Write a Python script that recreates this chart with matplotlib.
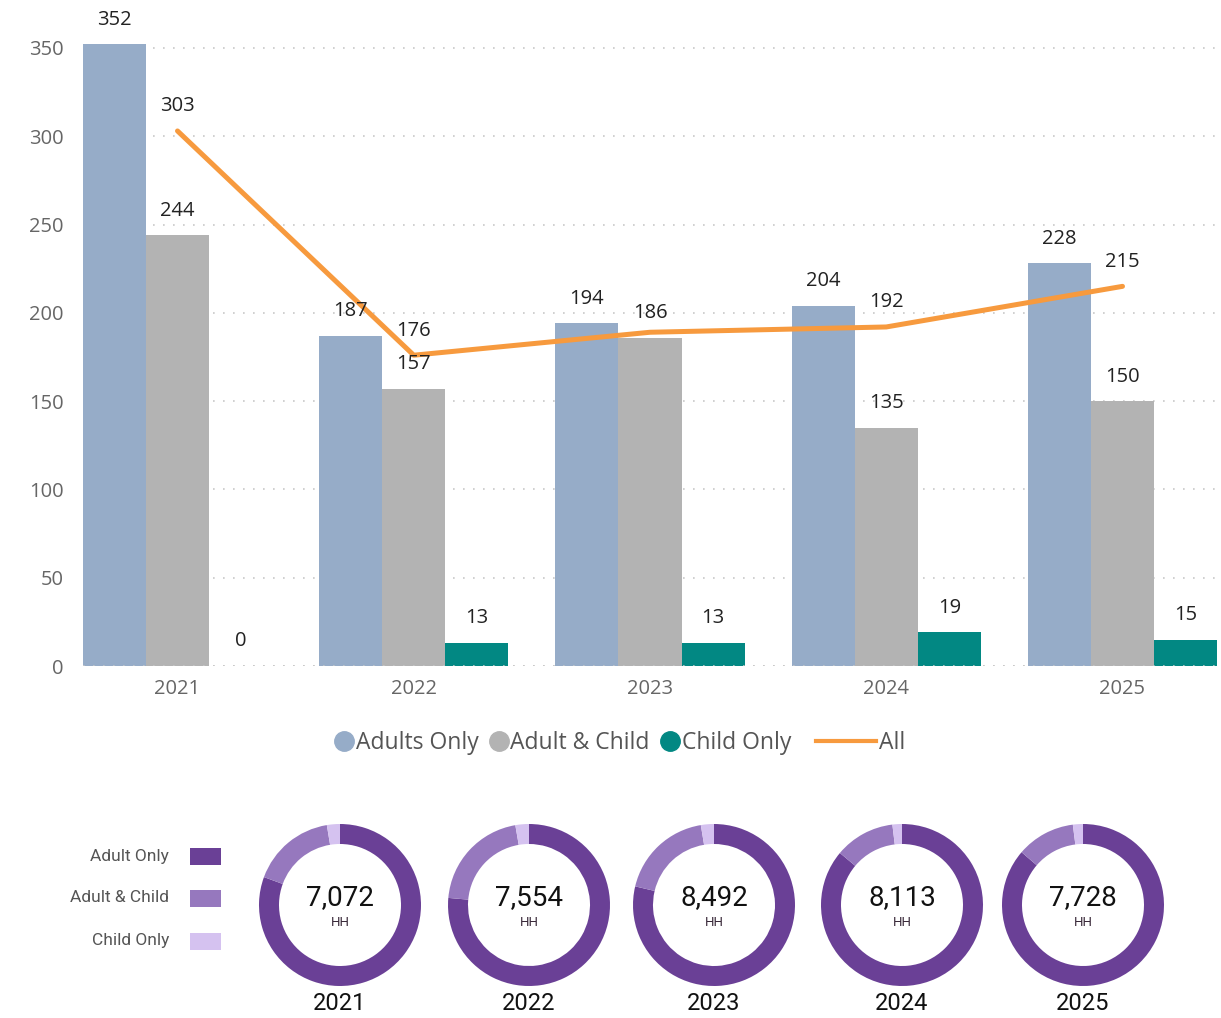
import numpy as np
import matplotlib.pyplot as plt
from matplotlib.lines import Line2D

years = ['2021', '2022', '2023', '2024', '2025']

# bar chart data
adults_only = [352, 187, 194, 204, 228]
adult_child = [244, 157, 186, 135, 150]
child_only = [0, 13, 13, 19, 15]
all_hh = [303, 176, 189, 192, 215]
all_labeled = [True, True, False, True, True]   # 2023 label hidden in the source

# donut data (household counts)
donut_totals = [7072, 7554, 8492, 8113, 7728]
donut_adult_only = [5700, 5771, 6683, 6985, 6669]
donut_adult_child = [1188, 1579, 1588, 974, 904]
donut_child_only = [184, 204, 221, 154, 155]

adults_color = '#96ACC8'
ac_color = '#B3B3B3'
child_color = '#028883'
line_color = '#F79A3E'
d_colors = ['#6A4096', '#9678BE', '#D5C2F0']

W, H = 1221, 1018
fig = plt.figure(figsize=(W / 100, H / 100), dpi=100)
plt.rcParams['font.family'] = ['Open Sans', 'DejaVu Sans']

# ===================== main bar + line chart =====================
ax = fig.add_axes([83 / W, 1 - 666 / H, (1217 - 83) / W, (666 - 30.3) / H])
x = np.arange(len(years))
bw = 63 / 236

ax.bar(x - bw, adults_only, bw, color=adults_color, zorder=2)
ax.bar(x, adult_child, bw, color=ac_color, zorder=2)
ax.bar(x + bw, child_only, bw, color=child_color, zorder=2)
ax.plot(x, all_hh, color=line_color, lw=3.6, solid_capstyle='round', zorder=3)

for i in range(len(years)):
    for off, v in [(-bw, adults_only[i]), (0, adult_child[i]), (bw, child_only[i])]:
        ax.annotate(f'{v}', (x[i] + off, v), xytext=(0, 10.5), textcoords='offset points',
                    ha='center', va='bottom', fontsize=14.5, color='#222222', zorder=5)
    if all_labeled[i]:
        ax.annotate(f'{all_hh[i]}', (x[i], all_hh[i]), xytext=(0, 10.5), textcoords='offset points',
                    ha='center', va='bottom', fontsize=14.5, color='#222222', zorder=5)

ax.set_xlim(-0.40, 4.40)
ax.set_ylim(0, 360)
ax.set_yticks(range(0, 351, 50))
ax.set_xticks(x)
ax.set_xticklabels(years)
ax.tick_params(axis='both', length=0, labelsize=14.5, labelcolor='#666666')
ax.tick_params(axis='y', pad=14)
ax.tick_params(axis='x', pad=9)
for s in ax.spines.values():
    s.set_visible(False)
ax.grid(axis='y', linestyle=(0, (1, 5)), color='#C8C8C8', lw=1.2, zorder=0)
ax.axhline(0, linestyle=(0, (1, 5)), color='#C8C8C8', lw=1.2, zorder=4)

# legend: three circle entries plus the line entry
bar_handles = [Line2D([], [], marker='o', ls='', markersize=14, color=c)
               for c in (adults_color, ac_color, child_color)]
fig.legend(bar_handles, ['Adults Only', 'Adult & Child', 'Child Only'],
           loc='center', bbox_to_anchor=(562 / W, 1 - 743 / H), ncol=3, frameon=False,
           fontsize=16.5, labelcolor='#555555', handletextpad=0.0, columnspacing=0.4,
           handlelength=1.0)
fig.legend([Line2D([], [], color=line_color, lw=3)], ['All'],
           loc='center', bbox_to_anchor=(861 / W, 1 - 743 / H), frameon=False,
           fontsize=16.5, labelcolor='#555555', handletextpad=0.15, handlelength=2.6)

# ===================== donuts =====================
dax = fig.add_axes([0, 0, 1, 228 / H])
dax.axis('off')

centers_x = [340, 529, 714, 902, 1083]
cy = H - 905
for i in range(len(years)):
    vals = [donut_adult_only[i], donut_adult_child[i], donut_child_only[i]]
    dax.pie(vals, colors=d_colors, startangle=90, counterclock=False,
            center=(centers_x[i], cy), radius=81,
            wedgeprops=dict(width=20, linewidth=0))
    dax.text(centers_x[i], H - 898, f'{donut_totals[i]:,}', ha='center', va='center',
             fontsize=20, family='Roboto', color='#111111')
    dax.text(centers_x[i], H - 923, 'HH', ha='center', va='center',
             fontsize=9.5, family='Roboto', color='#3A2A3A')
    dax.text(centers_x[i], H - 1003, years[i], ha='center', va='center',
             fontsize=17, family='Roboto', color='#111111')
dax.set_xlim(0, W)
dax.set_ylim(0, 228)
dax.set_aspect('auto')

# donut legend
leg_labels = ['Adult Only', 'Adult & Child', 'Child Only']
leg_y = [856, 898, 941]
for lab, yy, c in zip(leg_labels, leg_y, d_colors):
    dax.add_patch(plt.Rectangle((190, H - yy - 8.5), 31, 17, color=c, lw=0))
    dax.text(169, H - yy, lab, ha='right', va='center', fontsize=12.5,
             family='Roboto', color='#555555')

plt.savefig('out.png', dpi=100)
